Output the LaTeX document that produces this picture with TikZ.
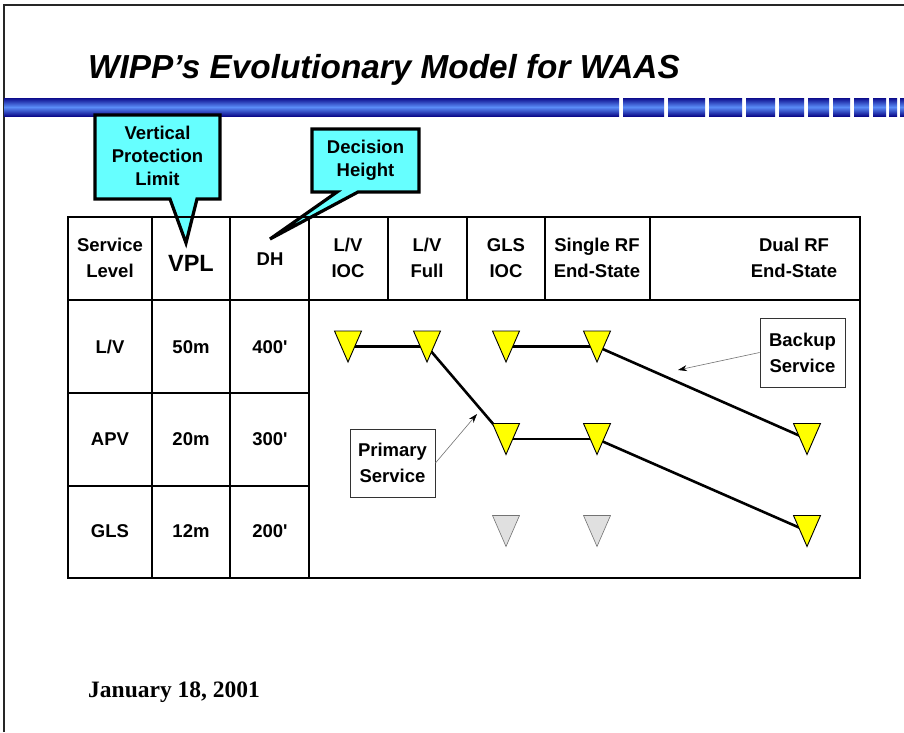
\documentclass[tikz,border=0pt]{standalone}
\usepackage{fontspec}
\setmainfont{Liberation Sans}[Ligatures=TeXOff]
\newfontfamily\datefont{Liberation Serif}
\usetikzlibrary{arrows.meta}
\definecolor{cyanbox}{HTML}{66FFFF}
\definecolor{navy}{HTML}{0C0C8C}
\definecolor{barlight}{HTML}{5B8DF8}
\definecolor{triyel}{HTML}{FFFF00}
\definecolor{trigrey}{HTML}{E0E0E0}
\begin{document}
\begin{tikzpicture}[x=1pt,y=-1pt,
  frame/.style={line width=2pt, black!85},
  barseg/.style={top color=navy, bottom color=navy, middle color=barlight},
  tline/.style={line width=2.2pt, black, line cap=rect},
  cell/.style={font=\fontsize{18.5}{26}\selectfont\bfseries, align=center, inner sep=0pt},
  calltext/.style={font=\fontsize{18.5}{23}\selectfont\bfseries, align=center, inner sep=0pt},
  callshape/.style={fill=cyanbox, draw=black, line width=3.2pt, line join=miter},
  conn/.style={line width=2.6pt, black},
  note/.style={draw=black!80, line width=0.9pt, fill=white, font=\fontsize{18.5}{26}\selectfont\bfseries, align=center, minimum width=85pt, inner sep=0pt},
  pointer/.style={draw=black!55, line width=0.6pt, -{Stealth[length=9pt,width=6pt,color=black]}},
  tri/.pic={\draw[fill=triyel, draw=black, line width=0.9pt, line join=miter] (-13.5,-15.5) -- (13.5,-15.5) -- (0,15.5) -- cycle;},
  trig/.pic={\draw[fill=trigrey, draw=black!55, line width=0.6pt, line join=miter] (-13.5,-15.5) -- (13.5,-15.5) -- (0,15.5) -- cycle;}
]
\useasboundingbox (0,0) rectangle (904,732);
\fill[white] (0,0) rectangle (904,732);
% frame
\draw[frame] (4,732) -- (4,5) -- (904,5);
% title
\node[anchor=base west, inner sep=0pt, font=\fontsize{33.3}{40}\selectfont\bfseries\itshape] (title) at (88,78) {WIPP’s Evolutionary Model for WAAS};
% blue bar
\shade[barseg] (4,98) rectangle (619,116);
\foreach \a/\b in {623/664,668/705,709/742,746/775,779/804,808/829,833/850,854/869,873/886,889/897,900/904}
  \shade[barseg] (\a,98) rectangle (\b,116);
% callouts
\draw[callshape] (95,115) -- (220,115) -- (220,199) -- (197,199) -- (186,243) -- (170,199) -- (95,199) -- cycle;
\node[calltext] (vplnote) at (157.5,156) {Vertical\\Protection\\Limit};
\draw[callshape] (312,129) -- (419,129) -- (419,192) -- (358,192) -- (270,239) -- (337,192) -- (312,192) -- cycle;
\node[calltext] (dhnote) at (365.5,160) {Decision\\Height};
% table
\draw[tline] (68,217) rectangle (860,578);
\draw[tline] (68,300) -- (860,300);
\foreach \x in {152,230,309} \draw[tline] (\x,217) -- (\x,578);
\foreach \x in {388,467,545,650} \draw[tline] (\x,217) -- (\x,300);
\draw[tline] (68,393) -- (309,393);
\draw[tline] (68,486) -- (309,486);
% header texts
\node[cell] (hsl) at (110,258) {Service\\Level};
\node[cell, font=\fontsize{23.5}{26}\selectfont\bfseries] (hvpl) at (191,263) {VPL};
\node[cell] (hdh) at (270,259) {DH};
\node[cell] (hlvioc) at (348,258) {L/V\\IOC};
\node[cell] (hlvfull) at (427,258) {L/V\\Full};
\node[cell] (hglsioc) at (506,258) {GLS\\IOC};
\node[cell] (hsingle) at (597,258) {Single RF\\End-State};
\node[cell] (hdual) at (794,258) {Dual RF\\End-State};
% body texts
\node[cell] (r1a) at (110,347) {L/V};
\node[cell] (r1b) at (191,347) {50m};
\node[cell] (r1c) at (270,347) {400'};
\node[cell] (r2a) at (110,439) {APV};
\node[cell] (r2b) at (191,439) {20m};
\node[cell] (r2c) at (270,439) {300'};
\node[cell] (r3a) at (110,531) {GLS};
\node[cell] (r3b) at (191,531) {12m};
\node[cell] (r3c) at (270,531) {200'};
% triangle positions
\coordinate (t1a) at (348,346.5);
\coordinate (t1b) at (427,346.5);
\coordinate (t1c) at (506,346.5);
\coordinate (t1d) at (597,346.5);
\coordinate (t2a) at (506,439);
\coordinate (t2b) at (597,439);
\coordinate (t2c) at (807,439);
\coordinate (t3a) at (506,531);
\coordinate (t3b) at (597,531);
\coordinate (t3c) at (807,531);
% connectors
\draw[conn] (t1a) -- (t1b);
\draw[conn] (t1b) -- (t2a);
\draw[conn] (t1c) -- (t1d);
\draw[conn] (t1d) -- (t2c);
\draw[conn] (t2a) -- (t2b);
\draw[conn] (t2b) -- (t3c);
% triangles
\foreach \p in {t1a,t1b,t1c,t1d,t2a,t2b,t2c,t3c} \pic at (\p) {tri};
\foreach \p in {t3a,t3b} \pic at (\p) {trig};
% notes
\node[note, minimum height=68pt] (prim) at (392.5,463) {Primary\\Service};
\node[note, minimum height=69pt] (back) at (802.5,352.5) {Backup\\Service};
\coordinate (primtip) at (477,414);
\coordinate (backtip) at (678,370);
\draw[pointer] (prim.east) -- (primtip);
\draw[pointer] (back.west) -- (backtip);
% date
\node[anchor=base west, inner sep=0pt, font=\datefont\bfseries\fontsize{23.5}{28}\selectfont] (date) at (88,697) {January 18, 2001};
\end{tikzpicture}
\end{document}
